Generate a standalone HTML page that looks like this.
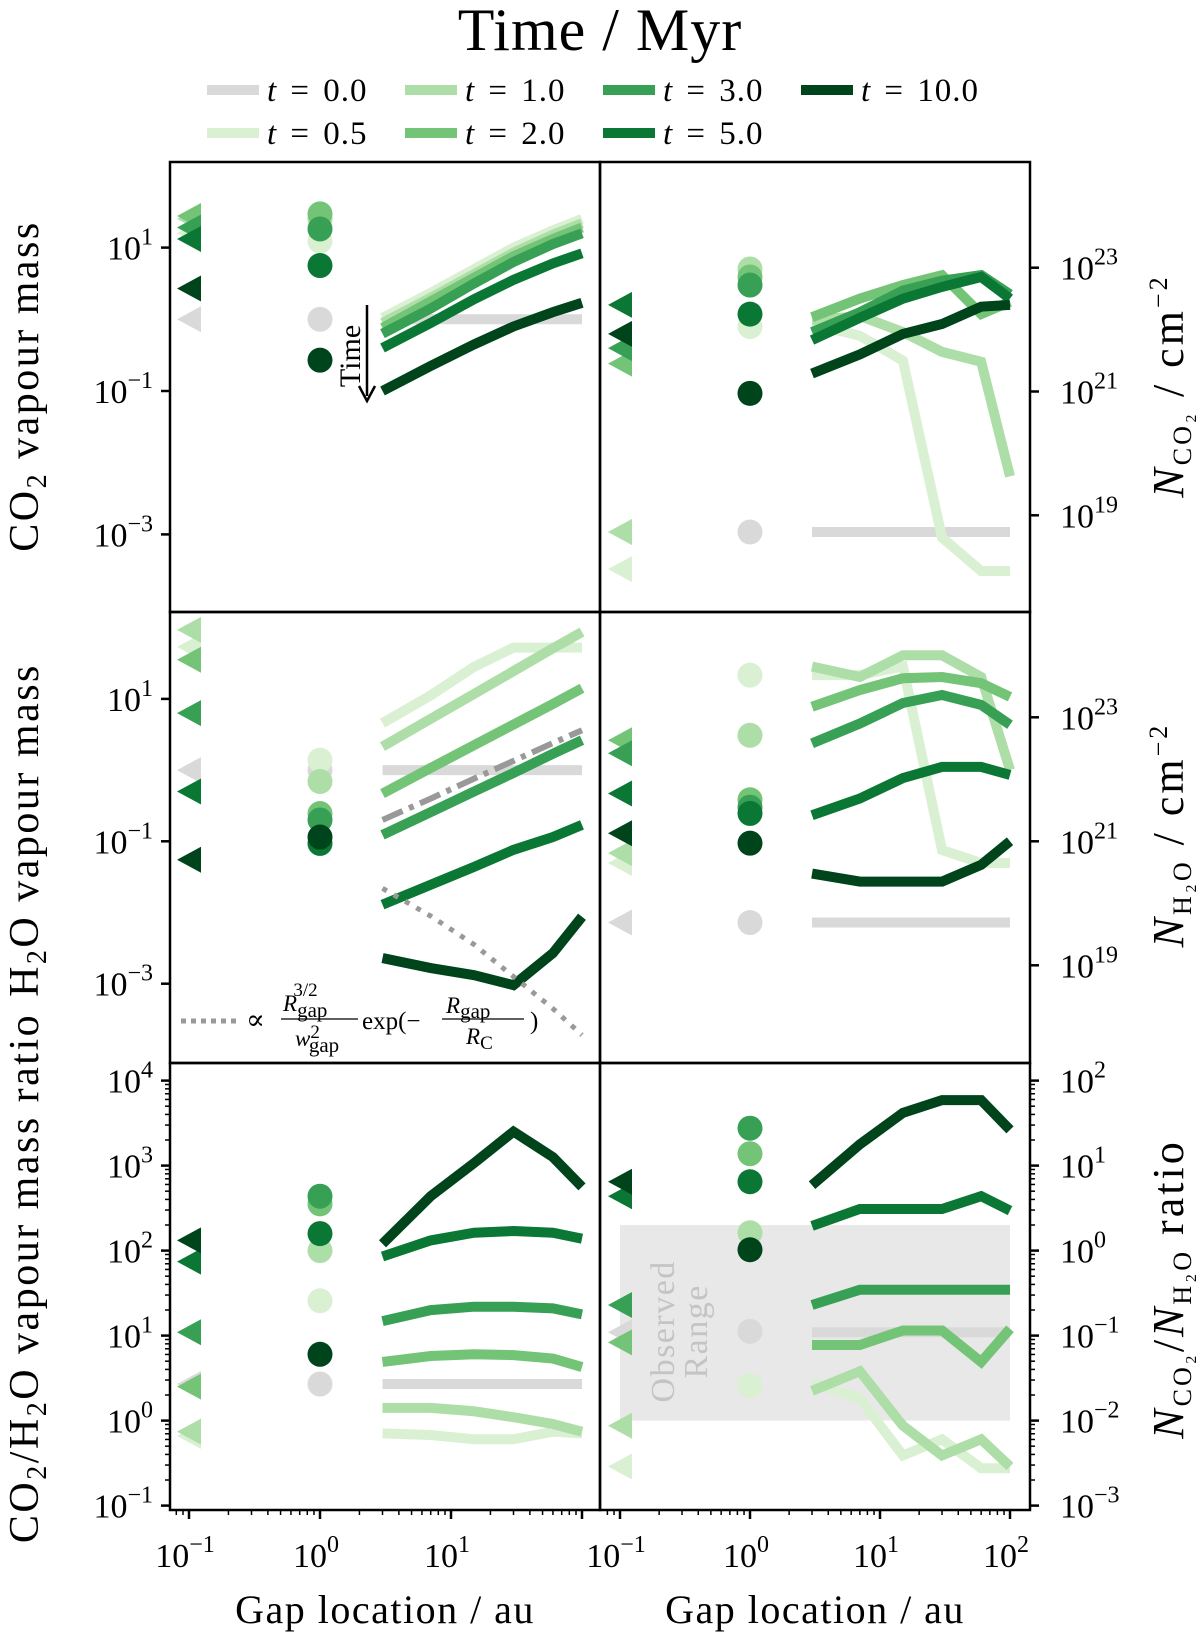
<!DOCTYPE html>
<html><head><meta charset="utf-8">
<style>
html,body{margin:0;padding:0;background:#fff;}
svg{display:block;font-family:"Liberation Serif","DejaVu Serif",serif;}
</style></head>
<body>
<svg id="fig" width="1200" height="1637" viewBox="0 0 1200 1637" xmlns="http://www.w3.org/2000/svg">
<text x="600" y="50" text-anchor="middle" font-size="60" letter-spacing="1">Time / Myr</text>
<g id="legend"></g>
<g id="panels"></g>
<g id="axes"></g>
<g>
<line x1="367" y1="305" x2="367" y2="396" stroke="#000" stroke-width="2.5"/>
<path d="M359,386 L367,401 L375,386" fill="none" stroke="#000" stroke-width="2.5"/>
<text transform="translate(360,356) rotate(-90)" text-anchor="middle" font-size="30">Time</text>
</g>
<g font-size="23">
<line x1="181" y1="1021" x2="238" y2="1021" stroke="#999" stroke-width="5" stroke-dasharray="5,5"/>
<text x="246" y="1029" font-size="28">∝</text>
<text x="283" y="1011" font-style="italic">R<tspan font-style="normal" font-size="21" dy="6">gap</tspan><tspan font-style="normal" font-size="19" dx="-34" dy="-21">3/2</tspan></text>
<line x1="281" y1="1019" x2="358" y2="1019" stroke="#000" stroke-width="1.3"/>
<text x="295" y="1046" font-style="italic">w<tspan font-style="normal" font-size="19" dy="-8">2</tspan><tspan font-style="normal" font-size="21" dx="-11" dy="14">gap</tspan></text>
<text x="362" y="1029" font-size="25">exp(−</text>
<text x="446" y="1013" font-style="italic">R<tspan font-style="normal" font-size="21" dy="5">gap</tspan></text>
<line x1="442" y1="1019" x2="524" y2="1019" stroke="#000" stroke-width="1.3"/>
<text x="466" y="1044" font-style="italic">R<tspan font-style="normal" font-size="19" dy="5">C</tspan></text>
<text x="530" y="1029" font-size="25">)</text>
</g>
</svg>
<script>
const NS='http://www.w3.org/2000/svg';
const svg=document.getElementById('fig');
const times=['0.0','0.5','1.0','2.0','3.0','5.0','10.0'];
const colors=['#d9d9d9','#d9f0d3','#aedea7','#73c476','#37a055','#0b7734','#00441b'];
const gapX=[3,7,15,30,60,100];
// Row 1 left: CO2 vapour mass (log10)
const co2MassLines=[[0,0,0,0,0,0],[0.02,0.37,0.7,1.0,1.24,1.4],[-0.05,0.3,0.63,0.93,1.18,1.34],[-0.12,0.25,0.58,0.88,1.12,1.28],[-0.2,0.15,0.5,0.8,1.05,1.2],[-0.4,-0.05,0.28,0.55,0.78,0.92],[-1.0,-0.65,-0.35,-0.1,0.1,0.23]];
const co2MassCircles=[0,1.09,1.4,1.47,1.26,0.75,-0.57];
const co2MassTriangles=[0,1.2,1.4,1.44,1.28,1.12,0.43];
// Row 1 right: N_CO2 (log10 cm^-2)
const nco2Lines=[[18.73,18.73,18.73,18.73,18.73,18.73],[22.09,21.9,21.5,18.64,18.1,18.1],[22.15,22.22,21.96,21.64,21.48,19.63],[22.2,22.5,22.72,22.88,22.25,22.45],[21.96,22.28,22.63,22.79,22.88,22.57],[21.83,22.19,22.5,22.69,22.85,22.5],[21.29,21.6,21.93,22.09,22.37,22.4]];
const nco2Circles=[18.73,22.05,22.98,22.85,22.72,22.25,20.97];
const nco2Triangles=[18.73,18.13,18.73,21.45,21.7,22.4,21.93];
// Row 2 left: H2O vapour mass
const h2oMassLines=[[0,0,0,0,0,0],[0.66,1.05,1.45,1.72,1.72,1.72],[0.33,0.72,1.07,1.39,1.71,1.94],[-0.33,0.03,0.35,0.64,0.93,1.15],[-0.91,-0.59,-0.3,-0.04,0.23,0.42],[-1.89,-1.61,-1.36,-1.12,-0.94,-0.77],[-2.64,-2.78,-2.88,-3.02,-2.57,-2.06]];
const h2oMassCircles=[0,0.14,-0.16,-0.61,-0.7,-1.03,-0.94];
const h2oMassTriangles=[0,1.73,1.97,1.55,0.8,-0.3,-1.26];
const dashDotLine=[-0.7,-0.4,-0.12,0.13,0.38,0.56];
const dottedLine=[-1.66,-2.05,-2.45,-2.9,-3.35,-3.72];
// Row 2 right: N_H2O
const nh2oLines=[[19.69,19.69,19.69,19.69,19.69,19.69],[23.68,23.68,23.82,20.86,20.65,20.65],[23.82,23.65,24.0,24.0,23.65,22.15],[23.17,23.44,23.63,23.65,23.55,23.33],[22.58,22.9,23.23,23.36,23.2,22.88],[21.42,21.69,22.02,22.2,22.2,22.07],[20.48,20.35,20.35,20.35,20.62,21.0]];
const nh2oCircles=[19.69,23.68,22.71,21.67,21.55,21.45,20.97];
const nh2oTriangles=[19.69,20.65,20.81,22.63,22.42,21.77,21.13];
// Row 3 left: CO2/H2O mass ratio
const ratioLines=[[0.43,0.43,0.43,0.43,0.43,0.43],[-0.15,-0.17,-0.22,-0.22,-0.13,-0.15],[0.15,0.15,0.11,0.04,-0.04,-0.13],[0.69,0.76,0.78,0.77,0.73,0.63],[1.17,1.3,1.34,1.34,1.32,1.25],[1.93,2.12,2.21,2.23,2.21,2.14],[2.08,2.64,3.03,3.4,3.1,2.75]];
const ratioCircles=[0.43,1.41,2.0,2.55,2.64,2.2,0.78];
const ratioTriangles=[0.43,-0.18,-0.13,0.4,1.04,1.87,2.12];
// Row 3 right: N_CO2/N_H2O
const nratioLines=[[-0.96,-0.96,-0.96,-0.96,-0.96,-0.96],[-1.55,-1.74,-2.41,-2.22,-2.56,-2.56],[-1.65,-1.42,-2.06,-2.41,-2.22,-2.54],[-1.11,-1.11,-0.94,-0.94,-1.31,-0.92],[-0.64,-0.46,-0.46,-0.46,-0.46,-0.46],[0.29,0.49,0.49,0.49,0.64,0.47],[0.77,1.25,1.62,1.77,1.77,1.42]];
const nratioCircles=[-0.95,-1.59,0.21,1.14,1.44,0.81,0.01];
const nratioTriangles=[-0.96,-2.54,-2.06,-1.08,-0.64,0.64,0.81];
const observedRange=[-2,0.3];

function mk(tag,attrs,parent){const e=document.createElementNS(NS,tag);for(const k in attrs)e.setAttribute(k,attrs[k]);(parent||svg).appendChild(e);return e;}

const panels=[
 {id:'co2-mass',x0:170,x1:600,y0:162,y1:612,xc:320,xd:131,yr:391,lr:-1,yd:71.7,L:co2MassLines,C:co2MassCircles,T:co2MassTriangles,ticks:[-3,-1,1],tickSide:'left',minor:false},
 {id:'n-co2',x0:600,x1:1030,y0:162,y1:612,xc:750,xd:130,yr:391.5,lr:21,yd:61.9,L:nco2Lines,C:nco2Circles,T:nco2Triangles,ticks:[19,21,23],tickSide:'right',minor:false},
 {id:'h2o-mass',x0:170,x1:600,y0:612,y1:1063,xc:320,xd:131,yr:841.3,lr:-1,yd:71.2,L:h2oMassLines,C:h2oMassCircles,T:h2oMassTriangles,ticks:[-3,-1,1],tickSide:'left',minor:false},
 {id:'n-h2o',x0:600,x1:1030,y0:612,y1:1063,xc:750,xd:130,yr:841.3,lr:21,yd:62,L:nh2oLines,C:nh2oCircles,T:nh2oTriangles,ticks:[19,21,23],tickSide:'right',minor:false},
 {id:'mass-ratio',x0:170,x1:600,y0:1063,y1:1510,xc:320,xd:131,yr:1420.6,lr:0,yd:85,L:ratioLines,C:ratioCircles,T:ratioTriangles,ticks:[-1,0,1,2,3,4],tickSide:'left',minor:true},
 {id:'n-ratio',x0:600,x1:1030,y0:1063,y1:1510,xc:750,xd:130,yr:1250.6,lr:0,yd:85,L:nratioLines,C:nratioCircles,T:nratioTriangles,ticks:[-3,-2,-1,0,1,2],tickSide:'right',minor:true}
];
const pg=document.getElementById('panels');
const ag=document.getElementById('axes');
panels.forEach((p,pi)=>{
 const sx=v=>p.xc+p.xd*Math.log10(v);
 const sy=l=>p.yr-p.yd*(l-p.lr);
 const cp=mk('clipPath',{id:'clip'+pi},pg);
 mk('rect',{x:p.x0,y:p.y0,width:p.x1-p.x0,height:p.y1-p.y0},cp);
 const g=mk('g',{'clip-path':'url(#clip'+pi+')'},pg);
 
 
 if(p.id==='n-ratio'){
  const r=mk('rect',{x:sx(0.1),y:sy(observedRange[1]),width:sx(100)-sx(0.1),height:sy(observedRange[0])-sy(observedRange[1]),fill:'#e8e8e8'},g);
  
  
  const t=mk('text',{transform:'translate('+(sx(0.1)+58)+','+sy(-0.95)+') rotate(-90)','text-anchor':'middle','font-size':'34',fill:'#c4c4c4','letter-spacing':'1.5'},g);
  
  
  const t1=mk('tspan',{x:0,dy:'-4'},t);t1.textContent='Observed';
  const t2=mk('tspan',{x:0,dy:'33'},t);t2.textContent='Range';
 }
 p.L.forEach((ser,si)=>{
  const pl=mk('polyline',{points:ser.map((l,i)=>sx(gapX[i])+','+sy(l)).join(' '),fill:'none',stroke:colors[si],'stroke-width':'10','stroke-linejoin':'miter'},g);
  
  
 });
 if(p.id==='h2o-mass'){
  const dd=mk('polyline',{points:dashDotLine.map((l,i)=>sx(gapX[i])+','+sy(l)).join(' '),fill:'none',stroke:'#999','stroke-width':'6','stroke-dasharray':'22,7,5,7'},g);
  
  
  const dt=mk('polyline',{points:dottedLine.map((l,i)=>sx(gapX[i])+','+sy(l)).join(' '),fill:'none',stroke:'#999','stroke-width':'5','stroke-dasharray':'5,8'},g);
  
  
 }
 p.C.forEach((l,si)=>{
  const c=mk('circle',{cx:sx(1),cy:sy(l),r:12.5,fill:colors[si]},g);
  
  
 });
 p.T.forEach((l,si)=>{
  const cx=sx(0.1),cy=sy(l);
  const tr=mk('polygon',{points:(cx-12)+','+cy+' '+(cx+12)+','+(cy-13)+' '+(cx+12)+','+(cy+13),fill:colors[si]},g);
  
  
 });
 const tx=p.tickSide==='left'?p.x0:p.x1, dir=p.tickSide==='left'?-1:1;
 p.ticks.forEach(tk=>{
  const y=sy(tk);
  mk('line',{x1:tx,y1:y,x2:tx+dir*9,y2:y,stroke:'#000','stroke-width':'2.5'},ag);
  const t=mk('text',{x:p.tickSide==='left'?153:1060,y:y+12,'text-anchor':p.tickSide==='left'?'end':'start','font-size':'34'},ag);
  
  
  const a=mk('tspan',{},t);a.textContent='10';
  const b=mk('tspan',{dy:'-15','font-size':'24'},t);b.textContent=(tk<0?'−':'')+Math.abs(tk);
  if(p.minor&&tk<p.ticks[p.ticks.length-1]){for(let m=2;m<10;m++){const ym=sy(tk+Math.log10(m));mk('line',{x1:tx,y1:ym,x2:tx+dir*5,y2:ym,stroke:'#000','stroke-width':'1.5'},ag);}}
 });
 if(p.minor){
  for(let d=-2;d<=2;d++){for(let m=1;m<10;m++){const v=m*Math.pow(10,d);const x=sx(v);if(x<p.x0+2||x>p.x1-2)continue;mk('line',{x1:x,y1:p.y1,x2:x,y2:p.y1+(m===1?9:5),stroke:'#000','stroke-width':m===1?2.5:1.5},ag);}}
  const maxd=p.id==='n-ratio'?2:1;
  for(let d=-1;d<=maxd;d++){
   const t=mk('text',{x:sx(Math.pow(10,d))-4,y:1567,'text-anchor':'middle','font-size':'34'},ag);
   
   
   const a=mk('tspan',{},t);a.textContent='10';
   const b=mk('tspan',{dy:'-15','font-size':'24'},t);b.textContent=(d<0?'−':'')+Math.abs(d);
  }
 }
 const fr=mk('rect',{x:p.x0,y:p.y0,width:p.x1-p.x0,height:p.y1-p.y0,fill:'none',stroke:'#000','stroke-width':'2.5'},ag);
 
 
});
const lg=document.getElementById('legend');
const legCols=[207,405,603,801];
times.forEach((tm,i)=>{
 const col=Math.floor(i/2), row=i%2;
 const x=legCols[col], y=row===0?90:133;
 const e=mk('g',{},lg);
 
 
 mk('line',{x1:x,y1:y,x2:x+52,y2:y,stroke:colors[i],'stroke-width':'10'},e);
 const t=mk('text',{x:x+60,y:y+11,'font-size':'33','word-spacing':'4','letter-spacing':'1'},e);
 const a=mk('tspan',{'font-style':'italic'},t);a.textContent='t';
 const b=mk('tspan',{},t);b.textContent=' = '+tm;
});
function lab(name,x,y,rot,html,size,ls){const t=mk('text',{transform:'translate('+x+','+y+') rotate('+rot+')','text-anchor':'middle','font-size':size||42,'letter-spacing':ls===undefined?2.5:ls},svg);t.innerHTML=html;return t;}
const sub='<tspan font-size="28" dy="8">2</tspan><tspan dy="-8">';
lab('y-axis-title-co2-mass',38,386,-90,'CO'+sub+' vapour mass</tspan>');
lab('y-axis-title-h2o-mass',38,830,-90,'H'+sub+'O vapour mass</tspan>');
lab('y-axis-title-mass-ratio',38,1278,-90,'CO'+sub+'/H</tspan>'+sub+'O vapour mass ratio</tspan>');
lab('y-axis-title-n-co2',1183,386,-90,'<tspan font-style="italic">N</tspan><tspan font-size="26" dy="8">CO₂</tspan><tspan dy="-8"> / cm</tspan><tspan font-size="26" dy="-16">−2</tspan>',44,3);
lab('y-axis-title-n-h2o',1183,835,-90,'<tspan font-style="italic">N</tspan><tspan font-size="26" dy="8">H₂O</tspan><tspan dy="-8"> / cm</tspan><tspan font-size="26" dy="-16">−2</tspan>',44,3);
lab('y-axis-title-n-ratio',1183,1289,-90,'<tspan font-style="italic">N</tspan><tspan font-size="26" dy="8">CO₂</tspan><tspan dy="-8">/</tspan><tspan font-style="italic">N</tspan><tspan font-size="26" dy="8">H₂O</tspan><tspan dy="-8"> ratio</tspan>',44,3);
lab('x-axis-title-left',385,1623,0,'Gap location / au',40,1.5);
lab('x-axis-title-right',815,1623,0,'Gap location / au',40,1.5);
</script>
</body></html>
